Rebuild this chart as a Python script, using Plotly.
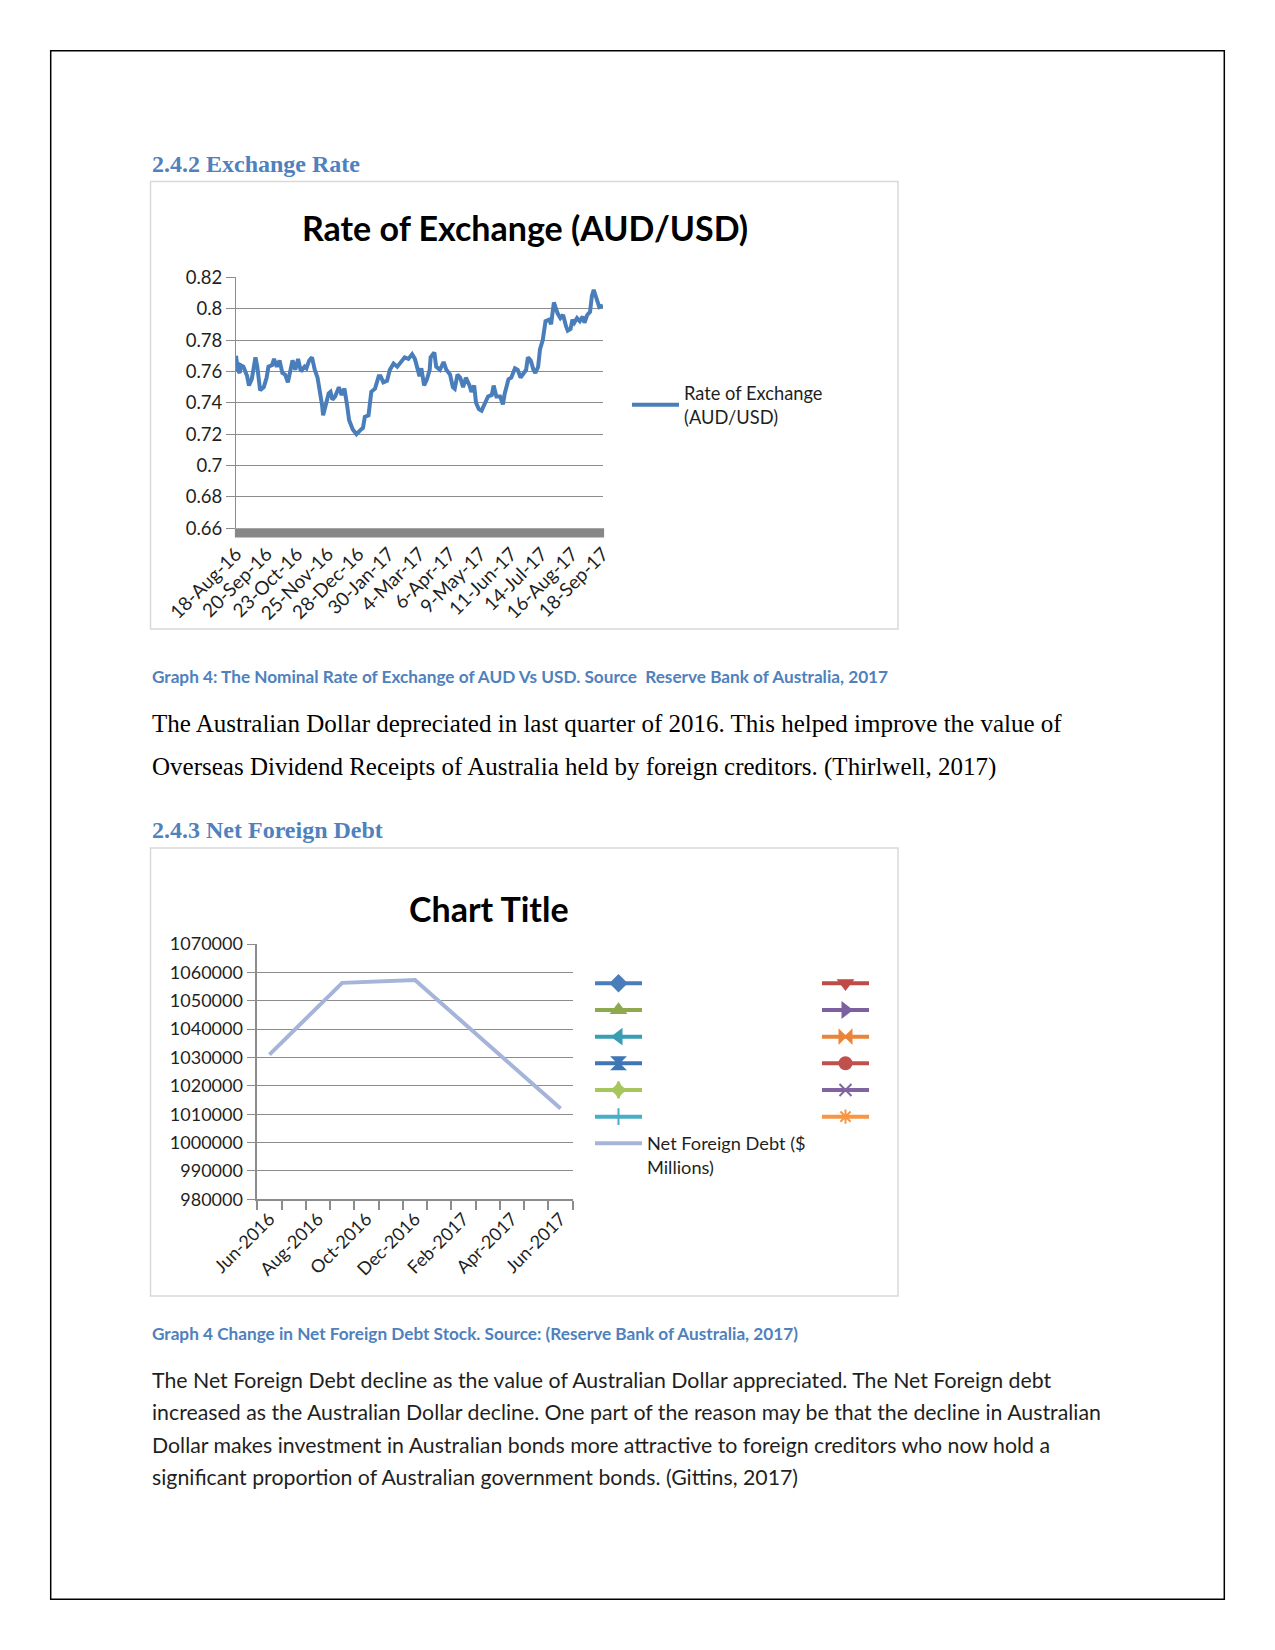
import plotly.graph_objects as go

W, H = 1275, 1650

# ---------------- data: exchange rate (AUD/USD) ----------------
fx_dates = [
    "2016-08-18", "2016-08-20", "2016-08-22", "2016-08-23", "2016-08-26", "2016-08-30",
    "2016-09-01", "2016-09-04", "2016-09-08", "2016-09-10", "2016-09-13", "2016-09-17",
    "2016-09-20", "2016-09-22", "2016-09-26", "2016-09-28", "2016-10-01", "2016-10-04",
    "2016-10-07", "2016-10-10", "2016-10-13", "2016-10-16", "2016-10-18", "2016-10-21",
    "2016-10-24", "2016-10-27", "2016-10-31", "2016-11-02", "2016-11-05", "2016-11-08",
    "2016-11-11", "2016-11-14", "2016-11-17", "2016-11-19", "2016-11-20", "2016-11-23",
    "2016-11-26", "2016-11-28", "2016-11-30", "2016-12-03", "2016-12-07", "2016-12-10",
    "2016-12-13", "2016-12-16", "2016-12-18", "2016-12-22", "2016-12-26", "2016-12-31",
    "2017-01-02", "2017-01-04", "2017-01-08", "2017-01-11", "2017-01-15", "2017-01-19",
    "2017-01-21", "2017-01-24", "2017-01-28", "2017-01-31", "2017-02-04", "2017-02-08",
    "2017-02-12", "2017-02-16", "2017-02-20", "2017-02-24", "2017-02-27", "2017-03-01",
    "2017-03-04", "2017-03-06", "2017-03-09", "2017-03-12", "2017-03-15", "2017-03-16",
    "2017-03-20", "2017-03-22", "2017-03-26", "2017-03-30", "2017-04-02", "2017-04-06",
    "2017-04-09", "2017-04-11", "2017-04-14", "2017-04-17", "2017-04-20", "2017-04-23",
    "2017-04-27", "2017-04-29", "2017-05-02", "2017-05-04", "2017-05-07", "2017-05-10",
    "2017-05-14", "2017-05-17", "2017-05-21", "2017-05-23", "2017-05-26", "2017-05-30",
    "2017-06-02", "2017-06-04", "2017-06-08", "2017-06-11", "2017-06-15", "2017-06-18",
    "2017-06-21", "2017-06-24", "2017-06-27", "2017-06-29", "2017-07-02", "2017-07-05",
    "2017-07-07", "2017-07-10", "2017-07-12", "2017-07-15", "2017-07-18", "2017-07-22",
    "2017-07-24", "2017-07-27", "2017-07-29", "2017-07-31", "2017-08-03", "2017-08-06",
    "2017-08-09", "2017-08-11", "2017-08-14", "2017-08-16", "2017-08-18", "2017-08-21",
    "2017-08-24", "2017-08-27", "2017-08-29", "2017-09-01", "2017-09-04", "2017-09-06",
    "2017-09-08", "2017-09-11", "2017-09-14", "2017-09-18",
]
fx_rates = [
    0.770, 0.761, 0.759, 0.764, 0.763, 0.757,
    0.751, 0.755, 0.769, 0.763, 0.748, 0.750,
    0.756, 0.763, 0.764, 0.768, 0.763, 0.767,
    0.759, 0.758, 0.753, 0.761, 0.767, 0.761,
    0.768, 0.760, 0.763, 0.762, 0.767, 0.769,
    0.761, 0.756, 0.747, 0.738, 0.732, 0.740,
    0.746, 0.747, 0.742, 0.744, 0.750, 0.745,
    0.749, 0.738, 0.729, 0.723, 0.720, 0.723,
    0.724, 0.731, 0.732, 0.747, 0.749, 0.757,
    0.757, 0.753, 0.754, 0.761, 0.765, 0.763,
    0.766, 0.769, 0.768, 0.771, 0.768, 0.763,
    0.757, 0.762, 0.751, 0.755, 0.761, 0.769,
    0.772, 0.763, 0.761, 0.766, 0.761, 0.758,
    0.750, 0.749, 0.758, 0.756, 0.750, 0.756,
    0.751, 0.747, 0.751, 0.740, 0.736, 0.735,
    0.740, 0.744, 0.745, 0.751, 0.744, 0.744,
    0.739, 0.746, 0.755, 0.756, 0.762, 0.761,
    0.756, 0.759, 0.761, 0.769, 0.767, 0.761,
    0.759, 0.763, 0.774, 0.780, 0.792, 0.793,
    0.790, 0.804, 0.800, 0.797, 0.794, 0.796,
    0.789, 0.786, 0.787, 0.793, 0.791, 0.794,
    0.792, 0.795, 0.791, 0.796, 0.798, 0.808,
    0.812, 0.806, 0.801, 0.802,
]
fx_tick_dates = ["2016-08-18", "2016-09-20", "2016-10-23", "2016-11-25", "2016-12-28",
                 "2017-01-30", "2017-03-04", "2017-04-06", "2017-05-09", "2017-06-11",
                 "2017-07-14", "2017-08-16", "2017-09-18"]
fx_tick_labels = ["18-Aug-16", "20-Sep-16", "23-Oct-16", "25-Nov-16", "28-Dec-16",
                  "30-Jan-17", "4-Mar-17", "6-Apr-17", "9-May-17", "11-Jun-17",
                  "14-Jul-17", "16-Aug-17", "18-Sep-17"]
fx_y_ticks = [0.66, 0.68, 0.70, 0.72, 0.74, 0.76, 0.78, 0.80, 0.82]
fx_y_labels = ["0.66", "0.68", "0.7", "0.72", "0.74", "0.76", "0.78", "0.8", "0.82"]
fx_series_name = "Rate of Exchange<br>(AUD/USD)"

# ---------------- data: net foreign debt ----------------
nfd_months = ["Jun-2016", "Jul-2016", "Aug-2016", "Sep-2016", "Oct-2016", "Nov-2016",
              "Dec-2016", "Jan-2017", "Feb-2017", "Mar-2017", "Apr-2017", "May-2017",
              "Jun-2017"]
nfd_values = [1031000, None, None, 1056300, None, None, 1057300,
              None, None, None, None, None, 1012000]
nfd_tick_labels = ["Jun-2016", "", "Aug-2016", "", "Oct-2016", "", "Dec-2016", "",
                   "Feb-2017", "", "Apr-2017", "", "Jun-2017"]
nfd_series_name = "Net Foreign Debt ($<br>Millions)"
nfd_y_range = [980000, 1070000]

# empty series shown only in the legend of the second chart
empty_symbols = ["diamond", "triangle-down", "triangle-up", "triangle-right",
                 "triangle-left", "bowtie", "hourglass", "circle",
                 "star-diamond", "x-thin-open", "cross-thin-open", "asterisk-open"]
empty_colors = ["#4A7EBB", "#BE4B48", "#8EA94E", "#7D60A0",
                "#3A9DB5", "#E8853A", "#3F76B5", "#C0504D",
                "#A8C65E", "#8064A2", "#4BACC6", "#F79646"]
empty_legends = ["legend2", "legend3"] * 6

# ---------------- page text ----------------
heading1 = "2.4.2 Exchange Rate"
heading2 = "2.4.3 Net Foreign Debt"
caption1 = "Graph 4: The Nominal Rate of Exchange of AUD Vs USD. Source  Reserve Bank of Australia, 2017"
caption2 = "Graph 4 Change in Net Foreign Debt Stock. Source: (Reserve Bank of Australia, 2017)"
para1 = ["The Australian Dollar depreciated in last quarter of 2016. This helped improve the value of",
         "Overseas Dividend Receipts of Australia held by foreign creditors. (Thirlwell, 2017)"]
para2 = ["The Net Foreign Debt decline as the value of Australian Dollar appreciated. The Net Foreign debt",
         "increased as the Australian Dollar decline. One part of the reason may be that the decline in Australian",
         "Dollar makes investment in Australian bonds more attractive to foreign creditors who now hold a",
         "significant proportion of Australian government bonds. (Gittins, 2017)"]


def px(x):
    return x / W


def py(y):
    return 1 - y / H


BLUE_HEAD = "#4F81BD"
GRID = "#8C8C8C"
TXT = "#1F1F1F"

fig = go.Figure()

# chart 1 line
fig.add_trace(go.Scatter(
    x=fx_dates, y=fx_rates, mode="lines", name=fx_series_name,
    line=dict(color="#4A7EBB", width=4), xaxis="x", yaxis="y", legend="legend",
))

# chart 2: empty series (legend only)
for sym, col, lg in zip(empty_symbols, empty_colors, empty_legends):
    fig.add_trace(go.Scatter(
        x=[None], y=[None], mode="lines+markers", name=" ",
        line=dict(color=col, width=4),
        marker=dict(symbol=sym, size=12, color=col, line=dict(color=col, width=2)),
        xaxis="x2", yaxis="y2", legend=lg,
    ))

# chart 2: net foreign debt line
fig.add_trace(go.Scatter(
    x=nfd_months, y=nfd_values, mode="lines", name=nfd_series_name, connectgaps=True,
    line=dict(color="#A5B4D8", width=4), xaxis="x2", yaxis="y2", legend="legend2",
))

axis_font = dict(family="Lato", size=18.5, color=TXT)

fig.update_layout(
    width=W, height=H, autosize=False,
    margin=dict(l=0, r=0, t=0, b=0, pad=0),
    paper_bgcolor="white", plot_bgcolor="white",
    font=dict(family="Lato", color=TXT),
    xaxis=dict(
        domain=[px(236), px(603)], anchor="y", type="date", automargin=False,
        range=[fx_tick_dates[0], fx_tick_dates[-1]],
        tickmode="array", tickvals=fx_tick_dates, ticktext=fx_tick_labels,
        tickangle=-45, tickfont=dict(family="Lato", size=19, color=TXT),
        showgrid=False, zeroline=False, showline=False, ticks="",
        ticklabelstandoff=10,
    ),
    yaxis=dict(
        domain=[py(528.3), py(277.3)], anchor="x", automargin=False,
        range=[fx_y_ticks[0], fx_y_ticks[-1]],
        tickmode="array", tickvals=fx_y_ticks, ticktext=fx_y_labels,
        tickfont=axis_font, ticks="outside", ticklen=9, tickcolor=GRID,
        showgrid=True, gridcolor=GRID, gridwidth=1.3,
        showline=True, linecolor=GRID, linewidth=1, zeroline=False,
    ),
    xaxis2=dict(
        domain=[px(257.3), px(572.7)], anchor="y2", type="category", automargin=False,
        categoryorder="array", categoryarray=nfd_months,
        range=[-0.5, len(nfd_months) - 0.5],
        tickmode="array", tickvals=nfd_months, ticktext=nfd_tick_labels,
        tickson="boundaries", ticks="outside", ticklen=9, tickcolor=GRID, tickwidth=1.5,
        tickangle=-45, tickfont=dict(family="Lato", size=18, color=TXT),
        showgrid=False, zeroline=False, showline=True, linecolor=GRID, linewidth=2,
    ),
    yaxis2=dict(
        domain=[py(1199.3), py(944)], anchor="x2", automargin=False,
        range=nfd_y_range, dtick=10000, tickformat="d",
        tickfont=dict(family="Lato", size=18, color=TXT),
        ticks="outside", ticklen=9, tickcolor=GRID,
        showgrid=True, gridcolor=GRID, gridwidth=1.3,
        showline=True, linecolor=GRID, linewidth=1.5, zeroline=False,
    ),
    legend=dict(
        x=px(627), y=py(405), xanchor="left", yanchor="middle",
        font=dict(family="Lato", size=18.3, color=TXT), itemwidth=47,
        bgcolor="rgba(0,0,0,0)",
    ),
    legend2=dict(
        x=px(590), y=py(965), xanchor="left", yanchor="top", valign="top",
        font=dict(family="Lato", size=18.2, color=TXT), itemwidth=47,
        bgcolor="rgba(0,0,0,0)",
    ),
    legend3=dict(
        x=px(817), y=py(965), xanchor="left", yanchor="top",
        font=dict(family="Lato", size=18.2, color=TXT), itemwidth=47,
        bgcolor="rgba(0,0,0,0)",
    ),
    showlegend=True,
)

shapes = [
    # page border
    dict(type="rect", xref="paper", yref="paper", x0=px(50.7), x1=px(1224.3),
         y0=py(1599.3), y1=py(50.7), line=dict(color="black", width=1.5)),
    # chart boxes
    dict(type="rect", xref="paper", yref="paper", x0=px(150.5), x1=px(898),
         y0=py(629), y1=py(181.5), line=dict(color="#D9D9D9", width=1.5)),
    dict(type="rect", xref="paper", yref="paper", x0=px(150.5), x1=px(898),
         y0=py(1296), y1=py(848), line=dict(color="#D9D9D9", width=1.5)),
    # thick horizontal axis bar of chart 1
    dict(type="rect", xref="x domain", yref="paper", x0=-0.003, x1=1.003,
         y0=py(537.5), y1=py(528.3), line=dict(width=0), fillcolor="#878787"),
]
fig.update_layout(shapes=shapes)


def text(s, x, y, size, family="Lato", color=TXT, bold=False, xanchor="left"):
    fig.add_annotation(
        text=f"<b>{s}</b>" if bold else s, xref="paper", yref="paper",
        x=px(x), y=py(y), xanchor=xanchor, yanchor="middle", showarrow=False,
        font=dict(family=family, size=size, color=color),
    )


text(heading1, 150, 164, 24, family="Liberation Serif", color=BLUE_HEAD, bold=True)
text(heading2, 150, 830, 24, family="Liberation Serif", color=BLUE_HEAD, bold=True)
text("Rate of Exchange (AUD/USD)", 525, 227, 34, bold=True, color="black", xanchor="center")
text("Chart Title", 488.5, 908, 34, bold=True, color="black", xanchor="center")
text(caption1, 150, 676, 17.2, color=BLUE_HEAD, bold=True)
text(caption2, 150, 1333, 17.2, color=BLUE_HEAD, bold=True)
for i, line in enumerate(para1):
    text(line, 150, 724 + i * 43, 25, family="Liberation Serif", color="black")
for i, line in enumerate(para2):
    text(line, 150, 1380 + i * 32.3, 21.3, color=TXT)

fig.write_html("out.html")
